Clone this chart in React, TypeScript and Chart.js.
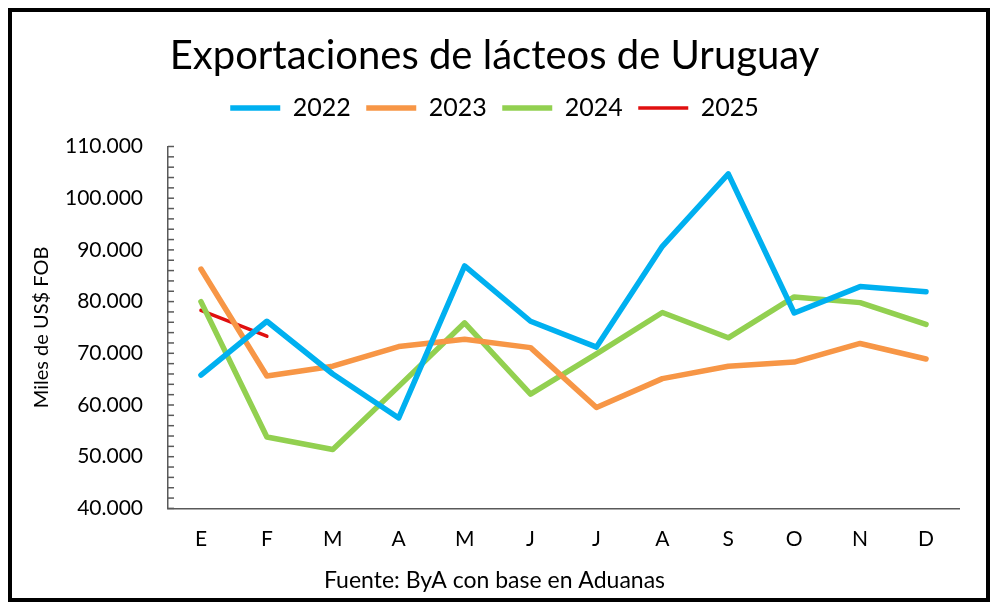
import { useEffect, useRef } from 'react';
import { Chart, registerables } from 'chart.js';

Chart.register(...registerables);

// datos (miles de US$ FOB)
const meses = ['E', 'F', 'M', 'A', 'M', 'J', 'J', 'A', 'S', 'O', 'N', 'D'];
const serie2022 = [65800, 76200, 66000, 57500, 86900, 76200, 71200, 90700, 104700, 77800, 82900, 81900];
const serie2023 = [86300, 65600, 67500, 71300, 72700, 71100, 59500, 65100, 67500, 68300, 71900, 68900];
const serie2024 = [80000, 53800, 51400, 63600, 75900, 62100, 69900, 77900, 73000, 80900, 79800, 75600];
const serie2025 = [78300, 73300];

const yMin = 40000;
const yMax = 110000;
const pasoMayor = 10000;
const pasoMenor = 2000;

const fuente = 'Lato, sans-serif';
const colorEje = '#595959';

const formatoMiles = (v: number) => String(v).replace(/\B(?=(\d{3})+(?!\d))/g, '.');

// marcas menores hacia adentro del eje Y, como en Excel
const marcasMenores = {
    id: 'marcasMenores',
    afterDraw(chart: any) {
        const y = chart.scales.y;
        const ctx = chart.ctx;
        const x0 = chart.chartArea.left;
        ctx.save();
        ctx.strokeStyle = colorEje;
        ctx.lineWidth = 1.5;
        for (let v = yMin; v <= yMax; v += pasoMenor) {
            const py = y.getPixelForValue(v);
            ctx.beginPath();
            ctx.moveTo(x0, py);
            ctx.lineTo(x0 + 6, py);
            ctx.stroke();
        }
        ctx.restore();
    }
};

// separa la leyenda del area del grafico
const margenLeyenda = {
    id: 'margenLeyenda',
    beforeInit(chart: any) {
        const fitOriginal = chart.legend.fit;
        chart.legend.fit = function () {
            fitOriginal.bind(chart.legend)();
            this.height += 16;
        };
    }
};

export default function App() {
    const canvasRef = useRef<HTMLCanvasElement>(null);

    useEffect(() => {
        if (!canvasRef.current) return;

        const linea = (label: string, data: number[], color: string, ancho: number) => ({
            label,
            data,
            borderColor: color,
            backgroundColor: color,
            borderWidth: ancho,
            pointRadius: 0,
            pointHoverRadius: 0,
            tension: 0,
            borderCapStyle: 'round' as const,
            borderJoinStyle: 'round' as const,
            fill: false
        });

        const grafico = new Chart(canvasRef.current, {
            type: 'line',
            data: {
                labels: meses,
                datasets: [
                    linea('2022', serie2022, '#00B0F0', 5.5),
                    linea('2023', serie2023, '#F79646', 5.5),
                    linea('2024', serie2024, '#92D050', 5.5),
                    linea('2025', serie2025, '#E00F0F', 3.5)
                ]
            },
            options: {
                animation: false,
                responsive: true,
                maintainAspectRatio: false,
                layout: { padding: { top: 10, left: 18, right: 27, bottom: 0 } },
                plugins: {
                    title: {
                        display: true,
                        text: 'Exportaciones de lácteos de Uruguay',
                        color: '#000',
                        font: { family: fuente, size: 40, weight: 'normal' },
                        padding: { top: 10, bottom: 0 }
                    },
                    subtitle: {
                        display: true,
                        position: 'bottom',
                        text: 'Fuente: ByA con base en Aduanas',
                        color: '#000',
                        font: { family: fuente, size: 23, weight: 'normal' },
                        padding: { top: 16, bottom: 4 }
                    },
                    legend: {
                        display: true,
                        position: 'top',
                        labels: {
                            color: '#000',
                            font: { family: fuente, size: 25 },
                            usePointStyle: true,
                            pointStyle: 'line',
                            pointStyleWidth: 50,
                            padding: 15.5
                        }
                    },
                    tooltip: { enabled: false }
                },
                scales: {
                    x: {
                        offset: true,
                        grid: { display: false, drawTicks: false },
                        border: { display: true, color: colorEje, width: 1.5 },
                        ticks: {
                            color: '#000',
                            font: { family: fuente, size: 21 },
                            padding: 18,
                            autoSkip: false,
                            maxRotation: 0
                        },
                        afterFit: (escala: any) => {
                            escala.height = 42;
                        }
                    },
                    y: {
                        min: yMin,
                        max: yMax,
                        grid: { display: false, drawTicks: false },
                        border: { display: true, color: colorEje, width: 1.5 },
                        ticks: {
                            stepSize: pasoMayor,
                            color: '#000',
                            font: { family: fuente, size: 21 },
                            padding: 25,
                            callback: (v: any) => formatoMiles(Number(v))
                        },
                        title: {
                            display: true,
                            text: 'Miles de US$ FOB',
                            color: '#000',
                            font: { family: fuente, size: 20 },
                            padding: { top: 0, bottom: 0 }
                        },
                        afterFit: (escala: any) => {
                            escala.width = 138;
                        }
                    }
                }
            },
            plugins: [marcasMenores, margenLeyenda]
        });

        return () => {
            grafico.destroy();
        };
    }, []);

    return (
        <div style={{ width: '974px', height: '586px', border: '4px solid #000', position: 'relative', background: '#fff' }}>
            <canvas ref={canvasRef}></canvas>
        </div>
    );
}
